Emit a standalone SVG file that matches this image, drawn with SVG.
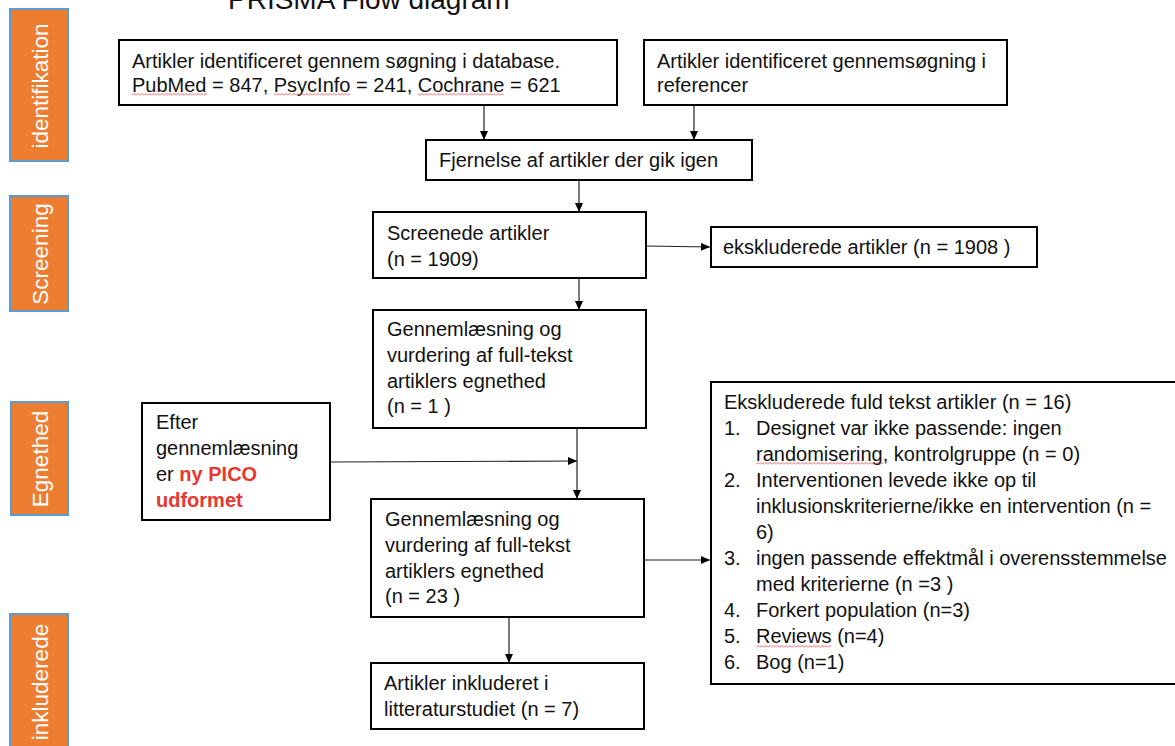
<svg xmlns="http://www.w3.org/2000/svg" width="1175" height="746" viewBox="0 0 1175 746">
<style>
  .box { fill: #ffffff; stroke: #000000; stroke-width: 2; }
  .t { font-family: "Liberation Sans", Arial, sans-serif; font-size: 20px; fill: #111111; }
  .red { fill: #E8372F; font-weight: bold; }
  .phase { fill: #ED7D31; stroke: #5B9BD5; stroke-width: 2; }
  .pt { font-family: "Liberation Sans", Arial, sans-serif; font-size: 22.5px; fill: #ffffff; text-anchor: middle; }
  .conn { stroke: #222222; stroke-width: 1.2; fill: none; marker-end: url(#ah); }
  .wavy { fill: url(#wave); }
</style>
<defs>
  <marker id="ah" markerWidth="9" markerHeight="8" refX="9" refY="4" orient="auto" markerUnits="userSpaceOnUse">
    <path d="M0,0 L9,4 L0,8 z" fill="#000000"/>
  </marker>
  <pattern id="wave" width="4" height="3" patternUnits="userSpaceOnUse">
    <polyline points="0,2.5 2,0.5 4,2.5" fill="none" stroke="#E0393E" stroke-width="0.8"/>
  </pattern>
</defs>
<rect width="1175" height="746" fill="#ffffff"/>

<text id="title" x="228" y="9" style="font-family:'Liberation Sans', Arial, sans-serif; font-size:28px; fill:#111111;">PRISMA Flow diagram</text>

<g id="phase-identifikation">
  <rect class="phase" x="10" y="9" width="58" height="152"/>
  <text class="pt" transform="translate(48,86) rotate(-90)">identifikation</text>
</g>
<g id="phase-screening">
  <rect class="phase" x="10" y="196" width="58" height="115"/>
  <text class="pt" transform="translate(48,254) rotate(-90)">Screening</text>
</g>
<g id="phase-egnethed">
  <rect class="phase" x="11" y="402" width="57" height="113"/>
  <text class="pt" transform="translate(48,459) rotate(-90)">Egnethed</text>
</g>
<g id="phase-inkluderede">
  <rect class="phase" x="10" y="614" width="58" height="140"/>
  <text class="pt" transform="translate(48,682) rotate(-90)">inkluderede</text>
</g>

<g id="connectors">
  <line class="conn" x1="484" y1="105" x2="484" y2="140"/>
  <line class="conn" x1="694" y1="105" x2="694" y2="140"/>
  <line class="conn" x1="579" y1="180" x2="579" y2="212"/>
  <line class="conn" x1="646" y1="246" x2="710" y2="247"/>
  <line class="conn" x1="579" y1="278" x2="579" y2="310"/>
  <line class="conn" x1="577" y1="428" x2="577" y2="499"/>
  <line class="conn" x1="330" y1="462" x2="577" y2="461"/>
  <line class="conn" x1="644" y1="560" x2="710" y2="560"/>
  <line class="conn" x1="509" y1="617" x2="509" y2="663"/>
</g>

<g id="node-database">
  <rect class="box" x="119" y="40" width="498" height="65"/>
  <text class="t" x="132" y="68">Artikler identificeret gennem søgning i database.</text>
  <text class="t" x="132" y="92">PubMed = 847, PsycInfo = 241, Cochrane = 621</text>
  <rect class="wavy" x="132" y="93" width="75" height="3"/>
  <rect class="wavy" x="274" y="93" width="76" height="3"/>
  <rect class="wavy" x="418" y="93" width="86" height="3"/>
</g>

<g id="node-referencer">
  <rect class="box" x="644" y="40" width="363" height="65"/>
  <text class="t" x="657" y="68">Artikler identificeret gennemsøgning i</text>
  <text class="t" x="657" y="92">referencer</text>
</g>

<g id="node-fjernelse">
  <rect class="box" x="426" y="140" width="326" height="40"/>
  <text class="t" x="439" y="167">Fjernelse af artikler der gik igen</text>
</g>

<g id="node-screenede">
  <rect class="box" x="373" y="212" width="273" height="66"/>
  <text class="t" x="387" y="240">Screenede artikler</text>
  <text class="t" x="387" y="266">(n = 1909)</text>
</g>

<g id="node-ekskluderede">
  <rect class="box" x="711" y="227" width="326" height="40"/>
  <text class="t" x="723" y="254">ekskluderede artikler (n = 1908 )</text>
</g>

<g id="node-gennem1">
  <rect class="box" x="373" y="310" width="273" height="118"/>
  <text class="t" x="387" y="336">Gennemlæsning og</text>
  <text class="t" x="387" y="362">vurdering af full-tekst</text>
  <text class="t" x="387" y="388">artiklers egnethed</text>
  <text class="t" x="387" y="413">(n = 1 )</text>
</g>

<g id="node-efter">
  <rect class="box" x="142" y="403" width="188" height="117"/>
  <text class="t" x="156" y="429">Efter</text>
  <text class="t" x="156" y="455">gennemlæsning</text>
  <text class="t" x="156" y="481">er <tspan class="red">ny PICO</tspan></text>
  <text class="t red" x="156" y="507">udformet</text>
</g>

<g id="node-gennem23">
  <rect class="box" x="371" y="499" width="273" height="118"/>
  <text class="t" x="385" y="526">Gennemlæsning og</text>
  <text class="t" x="385" y="552">vurdering af full-tekst</text>
  <text class="t" x="385" y="578">artiklers egnethed</text>
  <text class="t" x="385" y="603">(n = 23 )</text>
</g>

<g id="node-eksklusion">
  <rect class="box" x="711" y="382" width="480" height="302"/>
  <text class="t" x="724" y="409">Ekskluderede fuld tekst artikler (n = 16)</text>
  <text class="t" x="724" y="435">1.</text>
  <text class="t" x="756" y="435">Designet var ikke passende: ingen</text>
  <text class="t" x="756" y="461">randomisering, kontrolgruppe (n = 0)</text>
  <rect class="wavy" x="756" y="462" width="127" height="3"/>
  <text class="t" x="724" y="487">2.</text>
  <text class="t" x="756" y="487">Interventionen levede ikke op til</text>
  <text class="t" x="756" y="513">inklusionskriterierne/ikke en intervention (n =</text>
  <text class="t" x="756" y="539">6)</text>
  <text class="t" x="724" y="565">3.</text>
  <text class="t" x="756" y="565">ingen passende effektmål i overensstemmelse</text>
  <text class="t" x="756" y="591">med kriterierne (n =3 )</text>
  <text class="t" x="724" y="617">4.</text>
  <text class="t" x="756" y="617">Forkert population (n=3)</text>
  <text class="t" x="724" y="643">5.</text>
  <text class="t" x="756" y="643">Reviews (n=4)</text>
  <rect class="wavy" x="756" y="645" width="75" height="3"/>
  <text class="t" x="724" y="669">6.</text>
  <text class="t" x="756" y="669">Bog (n=1)</text>
</g>

<g id="node-inkluderet">
  <rect class="box" x="371" y="663" width="273" height="66"/>
  <text class="t" x="384" y="690">Artikler inkluderet i</text>
  <text class="t" x="384" y="716">litteraturstudiet (n = 7)</text>
</g>
</svg>
